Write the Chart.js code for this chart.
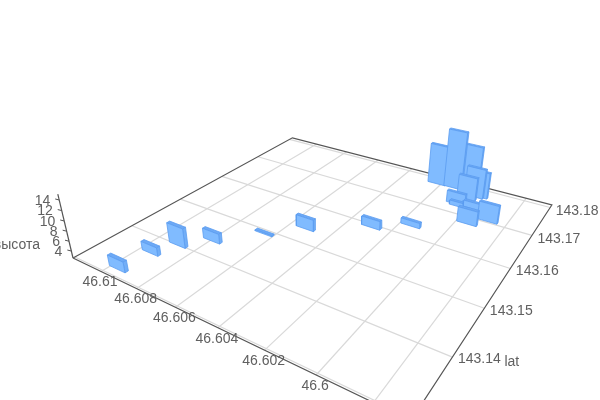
<!DOCTYPE html>
<html>
<head>
<meta charset="utf-8">
<style>
  html, body { margin: 0; padding: 0; background: #fff; }
  #wrap { width: 600px; height: 400px; }
</style>
<script src="https://cdn.jsdelivr.net/npm/chart.js"></script>
</head>
<body>
<div id="wrap"><canvas id="chart"></canvas></div>
<script>
// values
var lonValues = [46.6096, 46.6094, 46.6089, 46.60794, 46.60647, 46.60523, 46.6029, 46.60151, 46.60222, 46.60138, 46.6007, 46.6004, 46.60017, 46.6, 46.60062, 46.60039, 46.59951, 46.59882, 46.59978];
var latValues = [143.1315, 143.1366, 143.1401, 143.1436, 143.1492, 143.1537, 143.1594, 143.163, 143.1782, 143.1783, 143.18, 143.1758, 143.1771, 143.1775, 143.1732, 143.1726, 143.1682, 143.1706, 143.1732];
var heightValues = [4.7, 4.3, 6.6, 4.6, 2.8, 5, 4.4, 3.7, 11.5, 15.5, 12.1, 7.6, 9.1, 8.3, 5.1, 3.5, 5.7, 6.4, 3.9];

var lonTicks = [46.61, 46.608, 46.606, 46.604, 46.602, 46.6, 46.598];
var latTicks = [143.13, 143.14, 143.15, 143.16, 143.17, 143.18];
var zTicks = [4, 6, 8, 10, 12, 14];

// axis extents
var lonMax = 46.6117, lonMin = 46.5968;
var latMin = 143.1297, latMax = 143.181;
var zMin = 2.56, zMax = 15.1;
var barLon = 0.00045, barLat = 0.00028;

// perspective camera: origin and the three vanishing points
var origin = [73, 258];
var vpLon = [-723, -125], vpLat = [765, -121], vpZ = [327, 1327];
var lonScale = 20, latScale = 9.05, zScale = -0.0045;

function depth(lon, lat, z) {
  return 1 + (lon - lonMax) * lonScale + (lat - latMin) * latScale + (z - zMin) * zScale;
}

function project(lon, lat, z) {
  var a = (lon - lonMax) * lonScale;
  var b = (lat - latMin) * latScale;
  var c = (z - zMin) * zScale;
  var w = 1 + a + b + c;
  return {
    x: (origin[0] + a * vpLon[0] + b * vpLat[0] + c * vpZ[0]) / w,
    y: (origin[1] + a * vpLon[1] + b * vpLat[1] + c * vpZ[1]) / w
  };
}

function lineSet(points, color, width, order) {
  return {
    data: points, showLine: true, pointRadius: 0, fill: false,
    borderColor: color, borderWidth: width, order: order
  };
}

function faceSet(points, color, order) {
  return {
    data: points.concat([points[0]]), showLine: true, pointRadius: 0, fill: 'shape',
    backgroundColor: color, borderColor: '#5a9cf0', borderWidth: 0.8, order: order
  };
}

var datasets = [];

// floor grid
lonTicks.forEach(function (lon) {
  datasets.push(lineSet([project(lon, latMin, zMin), project(lon, latMax, zMin)], '#d9d9d9', 1.2, 1000));
});
latTicks.forEach(function (lat) {
  datasets.push(lineSet([project(lonMin, lat, zMin), project(lonMax, lat, zMin)], '#d9d9d9', 1.2, 1000));
});

// axis lines
datasets.push(lineSet([
  project(lonMax, latMin, zMin), project(lonMin, latMin, zMin), project(lonMin, latMax, zMin),
  project(lonMax, latMax, zMin), project(lonMax, latMin, zMin)
], '#555555', 1.2, 999));
datasets.push(lineSet([project(lonMax, latMin, zMin), project(lonMax, latMin, zMax)], '#555555', 1.2, 999));

// bars, far ones first
var barOrder = lonValues.map(function (v, i) { return i; });
barOrder.sort(function (p, q) {
  return depth(lonValues[q], latValues[q], zMin) - depth(lonValues[p], latValues[p], zMin);
});
barOrder.forEach(function (i, rank) {
  var order = barOrder.length - rank;
  var l0 = lonValues[i] - barLon, l1 = lonValues[i] + barLon;
  var t0 = latValues[i] - barLat, t1 = latValues[i] + barLat;
  var h = heightValues[i];
  datasets.push(faceSet([project(l1, t0, zMin), project(l0, t0, zMin), project(l0, t0, h), project(l1, t0, h)], '#80bbff', order));
  datasets.push(faceSet([project(l0, t0, zMin), project(l0, t1, zMin), project(l0, t1, h), project(l0, t0, h)], '#72aef6', order));
  datasets.push(faceSet([project(l1, t0, h), project(l0, t0, h), project(l0, t1, h), project(l1, t1, h)], '#6da9f5', order));
});

// tick labels, z ticks and axis names
var labelPlugin = {
  id: 'axisLabels',
  afterDatasetsDraw: function (chart) {
    var ctx = chart.ctx;
    var sx = chart.scales.x, sy = chart.scales.y;
    function put(text, p, dx, dy, align) {
      ctx.textAlign = align;
      ctx.fillText(text, sx.getPixelForValue(p.x) + dx, sy.getPixelForValue(p.y) + dy);
    }
    ctx.save();
    ctx.font = '14px "Liberation Sans", Arial, sans-serif';
    ctx.fillStyle = '#606060';
    ctx.strokeStyle = '#555555';
    ctx.lineWidth = 1;
    ctx.textBaseline = 'middle';
    lonTicks.forEach(function (lon) {
      put(String(lon), project(lon, latMin, zMin), -1, 11, 'center');
    });
    latTicks.forEach(function (lat) {
      put(String(lat), project(lonMin, lat, zMin), 5.5, 2 + (lat - 143.14) * 50, 'left');
    });
    zTicks.forEach(function (z) {
      var p = project(lonMax, latMin, z);
      put(String(z), p, -9, 1, 'right');
      ctx.beginPath();
      ctx.moveTo(sx.getPixelForValue(p.x), sy.getPixelForValue(p.y));
      ctx.lineTo(sx.getPixelForValue(p.x) - 4, sy.getPixelForValue(p.y) - 1);
      ctx.stroke();
    });
    put('высота', project(lonMax, latMin, 6), -29, 4, 'right');
    put('lat', project(lonMin, 143.14, zMin), 52, 5, 'left');
    ctx.restore();
  }
};

var chart = new Chart(document.getElementById('chart'), {
  type: 'scatter',
  data: { datasets: datasets },
  options: {
    responsive: true,
    maintainAspectRatio: false,
    animation: false,
    layout: { padding: 0 },
    plugins: { legend: { display: false }, tooltip: { enabled: false } },
    scales: {
      x: { type: 'linear', min: 0, max: 600, display: false },
      y: { type: 'linear', min: 0, max: 400, reverse: true, display: false }
    }
  },
  plugins: [labelPlugin]
});
</script>
</body>
</html>
